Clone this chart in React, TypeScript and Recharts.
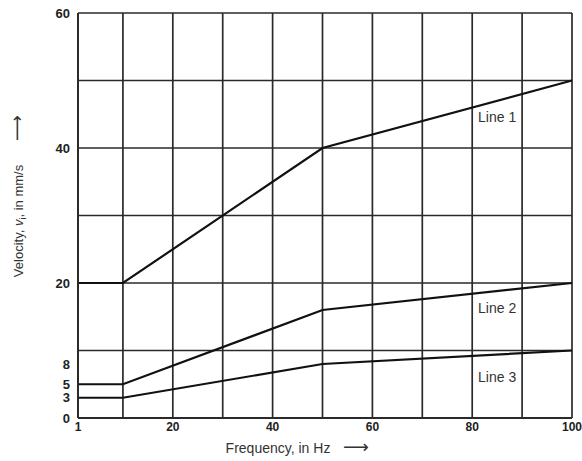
import React from 'react';
import { LineChart, Line, XAxis, YAxis, ReferenceLine, ReferenceDot } from 'recharts';

const frequencies = [1, 10, 50, 100];
const line1 = [20, 20, 40, 50];
const line2 = [5, 5, 16, 20];
const line3 = [3, 3, 8, 10];
const xTicks = [1, 20, 40, 60, 80, 100];
const yTicks = [0, 3, 5, 8, 20, 40, 60];
const gridX = [10, 20, 30, 40, 50, 60, 70, 80, 90, 100];
const gridY = [10, 20, 30, 40, 50, 60];
const lineNames = ['Line 1', 'Line 2', 'Line 3'];
const labelX = [85, 85, 85];
const labelY = [44.6, 16.3, 6.1];

const data = frequencies.map((f, i) => ({ f, line1: line1[i], line2: line2[i], line3: line3[i] }));

const FONT = '"Liberation Sans", Arial, sans-serif';
const GRID = '#2a2a2a';
const INK = '#111';

const YLabel = () => (
  <g>
    <text
      transform="translate(23, 221) rotate(-90)"
      textAnchor="middle"
      fontFamily={FONT}
      fontSize={13}
      fill="#333"
    >
      Velocity,{' '}
      <tspan fontStyle="italic">v</tspan>
      <tspan fontSize={9} dy={3}>i</tspan>
      <tspan dy={-3}>, in mm/s</tspan>
    </text>
    <text
      transform="translate(23, 128) rotate(-90)"
      textAnchor="middle"
      fontFamily='"DejaVu Sans", sans-serif'
      fontSize={18}
      fill="#333"
    >
      ⟶
    </text>
  </g>
);

const XLabel = () => (
  <g>
    <text x={278} y={453} textAnchor="middle" fontFamily={FONT} fontSize={14} fill="#333">
      Frequency, in Hz
    </text>
    <text x={356} y={453} textAnchor="middle" fontFamily='"DejaVu Sans", sans-serif' fontSize={18} fill="#333">
      ⟶
    </text>
  </g>
);

export default function App() {
  return (
    <div style={{ position: 'absolute', left: 0, top: 0, width: 582, height: 461, background: '#fff' }}>
      <LineChart width={582} height={461} data={data} margin={{ top: 13, right: 10, left: 0, bottom: 0 }}>
        <XAxis
          type="number"
          dataKey="f"
          domain={[1, 100]}
          ticks={xTicks}
          interval={0}
          tickLine={false}
          tickSize={2}
          tickMargin={2}
          height={43}
          axisLine={{ stroke: GRID, strokeWidth: 2 }}
          tick={{ fontSize: 12, fontWeight: 700, fill: '#222', fontFamily: FONT }}
          label={{ content: () => <XLabel /> }}
        />
        <YAxis
          type="number"
          domain={[0, 60]}
          ticks={yTicks}
          interval={0}
          tickLine={false}
          width={78}
          axisLine={{ stroke: GRID, strokeWidth: 2 }}
          tick={{ fontSize: 13, fontWeight: 700, fill: '#222', fontFamily: FONT }}
          label={{ content: () => <YLabel /> }}
        />
        {gridX.map((v) => (
          <ReferenceLine key={'gx' + v} x={v} stroke={GRID} strokeWidth={1.7} ifOverflow="visible" />
        ))}
        {gridY.map((v) => (
          <ReferenceLine key={'gy' + v} y={v} stroke={GRID} strokeWidth={1.7} ifOverflow="visible" />
        ))}
        <Line type="linear" dataKey="line1" stroke={INK} strokeWidth={2.2} dot={false} isAnimationActive={false} />
        <Line type="linear" dataKey="line2" stroke={INK} strokeWidth={2.2} dot={false} isAnimationActive={false} />
        <Line type="linear" dataKey="line3" stroke={INK} strokeWidth={2.2} dot={false} isAnimationActive={false} />
        {lineNames.map((n, i) => (
          <ReferenceDot
            key={n}
            x={labelX[i]}
            y={labelY[i]}
            r={0}
            fill="none"
            stroke="none"
            label={{ value: n, position: 'center', fill: '#333', fontSize: 14, fontFamily: FONT }}
          />
        ))}
      </LineChart>
    </div>
  );
}
